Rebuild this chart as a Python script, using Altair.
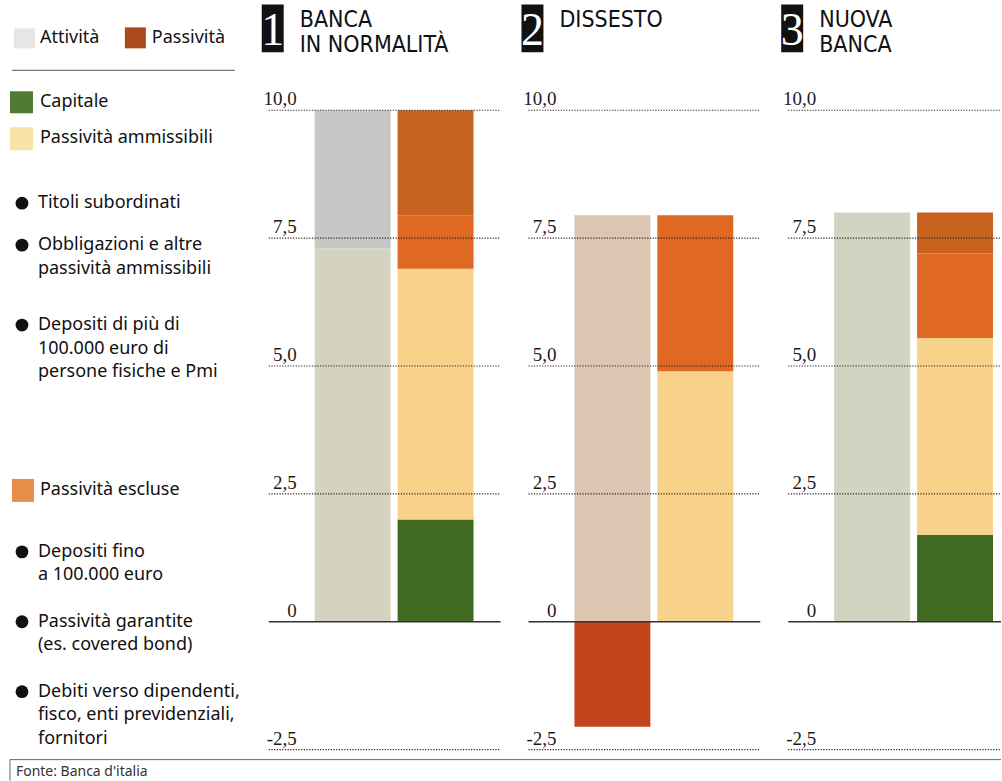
import altair as alt
import pandas as pd

# ---- data ---------------------------------------------------------------
PANEL_NUMBERS = ["1", "2", "3"]
PANEL_TITLES = [["BANCA", "IN NORMALITÀ"], ["DISSESTO"], ["NUOVA", "BANCA"]]
COLUMNS = ["Attività", "Passività"]

attivita = [10.0, 7.95, 8.0]        # total assets
attivita_grigie = [2.7, 0.0, 0.0]   # upper, greyer share of the assets bar
perdite = [0.0, -2.05, 0.0]         # losses, drawn below zero
capitale = [2.0, 0.0, 1.7]
ammissibili = [4.9, 4.9, 3.85]
escluse = [3.1, 3.05, 2.45]
escluse_scure = [2.05, 0.0, 0.8]    # darker upper tone inside the excluded block

Y_TICKS = [10.0, 7.5, 5.0, 2.5, 0.0, -2.5]
Y_LABELS = ["10,0", "7,5", "5,0", "2,5", "0", "-2,5"]

HEADER_LABELS = ["Attività", "Passività"]
SWATCH_LABELS = ["Capitale", "Passività ammissibili", "Passività escluse"]
BULLET_GROUPS = [
    ["Titoli subordinati"],
    ["Obbligazioni e altre", "passività ammissibili"],
    ["Depositi di più di", "100.000 euro di", "persone fisiche e Pmi"],
    ["Depositi fino", "a 100.000 euro"],
    ["Passività garantite", "(es. covered bond)"],
    ["Debiti verso dipendenti,", "fisco, enti previdenziali,", "fornitori"],
]
SOURCE = "Fonte: Banca d'italia"

# ---- styling ------------------------------------------------------------
TONES = {
    "att1": "#d5d3bf",
    "att2": "#dcc6b1",
    "att3": "#d3d3c1",
    "attgrey": "#c7c7c5",
    "perdita": "#c1441b",
    "capitale": "#3e6b1f",
    "ammissibili": "#f8d28a",
    "escluse": "#df6822",
    "escluse_scure": "#c7631f",
}
SANS = "Noto Sans"
SERIF = "Liberation Serif"
TITLE_FONT = "DejaVu Sans Condensed"

PANEL_WIDTHS = [240, 240, 221]
LEGEND_WIDTH = 241
HEIGHT = 781
Y_RANGE = [750, 110]
BAR_RANGE = [54, 213]

# layout of the left-hand key (pixel centres of each text line)
SWATCH_Y = [102, 138, 490]
BULLET_Y = [203, 245, 325, 552, 622, 692]
LINE_STEP = 23.5


def segments(i):
    rows = []
    split = attivita[i] - attivita_grigie[i]
    rows.append(("Attività", 0.0, split, f"att{i + 1}"))
    if attivita_grigie[i] > 0:
        rows.append(("Attività", split, attivita[i], "attgrey"))
    if perdite[i] < 0:
        rows.append(("Attività", perdite[i], 0.0, "perdita"))
    c = capitale[i]
    am = c + ammissibili[i]
    tot = am + escluse[i]
    dark = tot - escluse_scure[i]
    if c > 0:
        rows.append(("Passività", 0.0, c, "capitale"))
    rows.append(("Passività", c, am, "ammissibili"))
    rows.append(("Passività", am, dark, "escluse"))
    if escluse_scure[i] > 0:
        rows.append(("Passività", dark, tot, "escluse_scure"))
    return pd.DataFrame(rows, columns=["colonna", "y0", "y1", "tono"])


def panel(i):
    width = PANEL_WIDTHS[i]
    yscale = alt.Scale(domain=[-2.5, 10], range=Y_RANGE, nice=False, zero=False)
    xscale = alt.Scale(domain=COLUMNS, range=BAR_RANGE, paddingInner=0.084, paddingOuter=0)
    ticks = pd.DataFrame({"v": Y_TICKS, "label": Y_LABELS})

    bars = alt.Chart(segments(i)).mark_bar().encode(
        x=alt.X("colonna:N", scale=xscale, axis=None),
        y=alt.Y("y0:Q", scale=yscale, axis=None),
        y2="y1:Q",
        color=alt.Color(
            "tono:N",
            scale=alt.Scale(domain=list(TONES), range=list(TONES.values())),
            legend=None,
        ),
    )
    grid = alt.Chart(ticks).transform_filter("datum.v != 0").mark_rule(
        strokeDash=[1.2, 1.5], color="#222222", strokeWidth=1.1
    ).encode(
        x=alt.value(8), x2=alt.value(width),
        y=alt.Y("v:Q", scale=yscale, axis=None),
    )
    zero = alt.Chart(ticks).transform_filter("datum.v == 0").mark_rule(
        color="#333333", strokeWidth=1.3
    ).encode(
        x=alt.value(8), x2=alt.value(width),
        y=alt.Y("v:Q", scale=yscale, axis=None),
    )
    labels = alt.Chart(ticks).mark_text(
        align="right", baseline="alphabetic", dy=-5, font=SERIF, fontSize=19, color="#1a1a1a"
    ).encode(
        x=alt.value(36),
        y=alt.Y("v:Q", scale=yscale, axis=None),
        text="label:N",
    )

    num = pd.DataFrame({"n": [PANEL_NUMBERS[i]]})
    box = alt.Chart(num).mark_rect(color="#111111").encode(
        x=alt.value(1), x2=alt.value(23), y=alt.value(4), y2=alt.value(52)
    )
    digit = alt.Chart(num).mark_text(
        font=SERIF, fontSize=46, color="white", align="center", baseline="middle"
    ).encode(x=alt.value(12), y=alt.value(31), text="n:N")

    title_lines = pd.DataFrame({"riga": PANEL_TITLES[i], "k": list(range(len(PANEL_TITLES[i])))})
    title = alt.Chart(title_lines).transform_calculate(py="20 + datum.k * 25").mark_text(
        font=TITLE_FONT, fontSize=23, color="#111111", align="left", baseline="middle"
    ).encode(
        x=alt.value(39),
        y=alt.Y("py:Q", scale=None),
        text="riga:N",
    )

    return alt.layer(bars, grid, zero, labels, box, digit, title).properties(
        width=width, height=HEIGHT
    )


def key_panel():
    rows = []
    rows.append((HEADER_LABELS[0], 40, 38))
    rows.append((HEADER_LABELS[1], 152, 38))
    for lab, yy in zip(SWATCH_LABELS, SWATCH_Y):
        rows.append((lab, 40, yy))
    for group, yy in zip(BULLET_GROUPS, BULLET_Y):
        for k, line in enumerate(group):
            rows.append((line, 38, yy + k * LINE_STEP))
    texts = pd.DataFrame(rows, columns=["testo", "px", "py"])

    text_layer = alt.Chart(texts).mark_text(
        font=SANS, fontSize=18, color="#111111", align="left", baseline="middle"
    ).encode(
        x=alt.X("px:Q", scale=None),
        y=alt.Y("py:Q", scale=None),
        text="testo:N",
    )

    bullets = alt.Chart(pd.DataFrame({"py": BULLET_Y})).mark_circle(
        size=165, color="#111111", opacity=1
    ).encode(x=alt.value(22), y=alt.Y("py:Q", scale=None))

    swatches = pd.DataFrame({
        "x0": [14, 125, 10, 10, 12],
        "x1": [35, 146, 33, 33, 34],
        "y0": [28, 27, 91, 127, 479],
        "y1": [48, 48, 113, 150, 502],
        "c": ["#e6e6e4", "#a9491c", "#4f7a30", "#f8e2a8", "#e88c4a"],
    })
    swatch_layer = alt.Chart(swatches).mark_rect().encode(
        x=alt.X("x0:Q", scale=None), x2="x1:Q",
        y=alt.Y("y0:Q", scale=None), y2="y1:Q",
        color=alt.Color("c:N", scale=None),
    )

    sep = alt.Chart(pd.DataFrame({"a": [0]})).mark_rule(color="#555555", strokeWidth=1).encode(
        x=alt.value(12), x2=alt.value(235), y=alt.value(70)
    )
    foot = alt.Chart(pd.DataFrame({"a": [0]})).mark_rule(color="#666666", strokeWidth=1).encode(
        x=alt.value(10), x2=alt.value(1002), y=alt.value(760)
    )
    foot_v = alt.Chart(pd.DataFrame({"a": [0]})).mark_rule(color="#666666", strokeWidth=1).encode(
        x=alt.value(10), y=alt.value(760), y2=alt.value(781)
    )
    source = alt.Chart(pd.DataFrame({"t": [SOURCE]})).mark_text(
        font=SANS, fontSize=14, color="#333333", align="left", baseline="middle"
    ).encode(x=alt.value(16), y=alt.value(772), text="t:N")

    return alt.layer(
        swatch_layer, sep, bullets, text_layer, foot, foot_v, source
    ).properties(width=LEGEND_WIDTH, height=HEIGHT)


chart = alt.hconcat(
    key_panel(), panel(0), panel(1), panel(2), spacing=20, bounds="flush"
).properties(
    padding=0
).configure(background="white").configure_view(stroke=None)

chart.save("out.html", embed_options={"renderer": "svg", "actions": False})
